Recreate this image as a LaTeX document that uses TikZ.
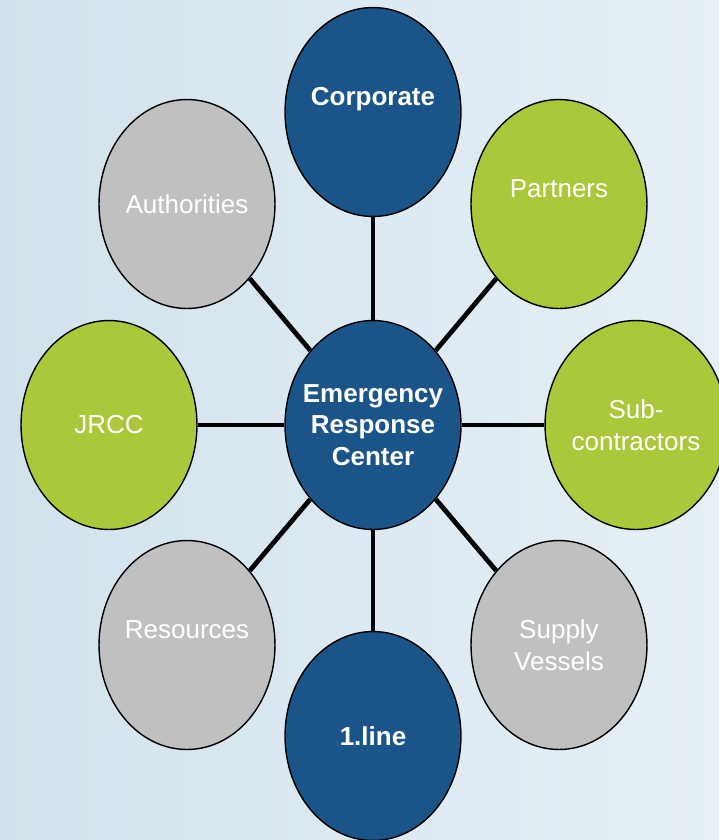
\documentclass[tikz,border=0pt]{standalone}
\usepackage{fontspec}
\setmainfont{Liberation Sans}
\usepackage{tikz}
\usetikzlibrary{shapes.geometric}
\definecolor{ercblue}{RGB}{27,84,136}
\definecolor{ercgreen}{RGB}{169,201,58}
\definecolor{ercgray}{RGB}{192,192,192}
\definecolor{bgleft}{RGB}{210,226,236}
\definecolor{bgright}{RGB}{230,240,246}
\tikzstyle{party}=[ellipse, draw=black, line width=0.8pt, minimum width=3.52cm, minimum height=4.18cm, inner sep=0pt, text=white, align=center, font=\fontsize{14.8}{18}\selectfont]
\tikzstyle{bluep}=[party, fill=ercblue, font=\fontsize{14.8}{18}\selectfont\bfseries]
\tikzstyle{greenp}=[party, fill=ercgreen]
\tikzstyle{grayp}=[party, fill=ercgray]
\tikzstyle{link}=[draw=black, line width=2.7pt]

\begin{document}
\begin{tikzpicture}[x=0.02cm, y=-0.02cm]
		   \fill[left color=bgleft, right color=bgright] (0,0) rectangle (719,840);
		   \useasboundingbox (0,0) rectangle (719,840);
		   % hub
		   \node[bluep, inner sep=-9pt] (erc) at (373, 425) {Emergency\\Response\\Center};
		   % ring
		   \node[bluep] (corp) at (373, 112) {Corporate\\\mbox{}};
		   \node[greenp] (part) at (559, 204) {Partners\\\mbox{}};
		   \node[greenp] (sub) at (636, 425) {Sub-\\contractors};
		   \node[grayp] (supp) at (559, 645) {Supply\\Vessels};
		   \node[bluep] (line) at (373, 736) {1.line};
		   \node[grayp] (res) at (187, 645) {Resources\\\mbox{}};
		   \node[greenp] (jrcc) at (109, 425) {JRCC};
		   \node[grayp] (auth) at (187, 204) {Authorities};
		   \foreach \n in {corp, part, sub, supp, line, res, jrcc, auth}
			   \draw[link] (erc) -- (\n);
	   \end{tikzpicture}
\end{document}
